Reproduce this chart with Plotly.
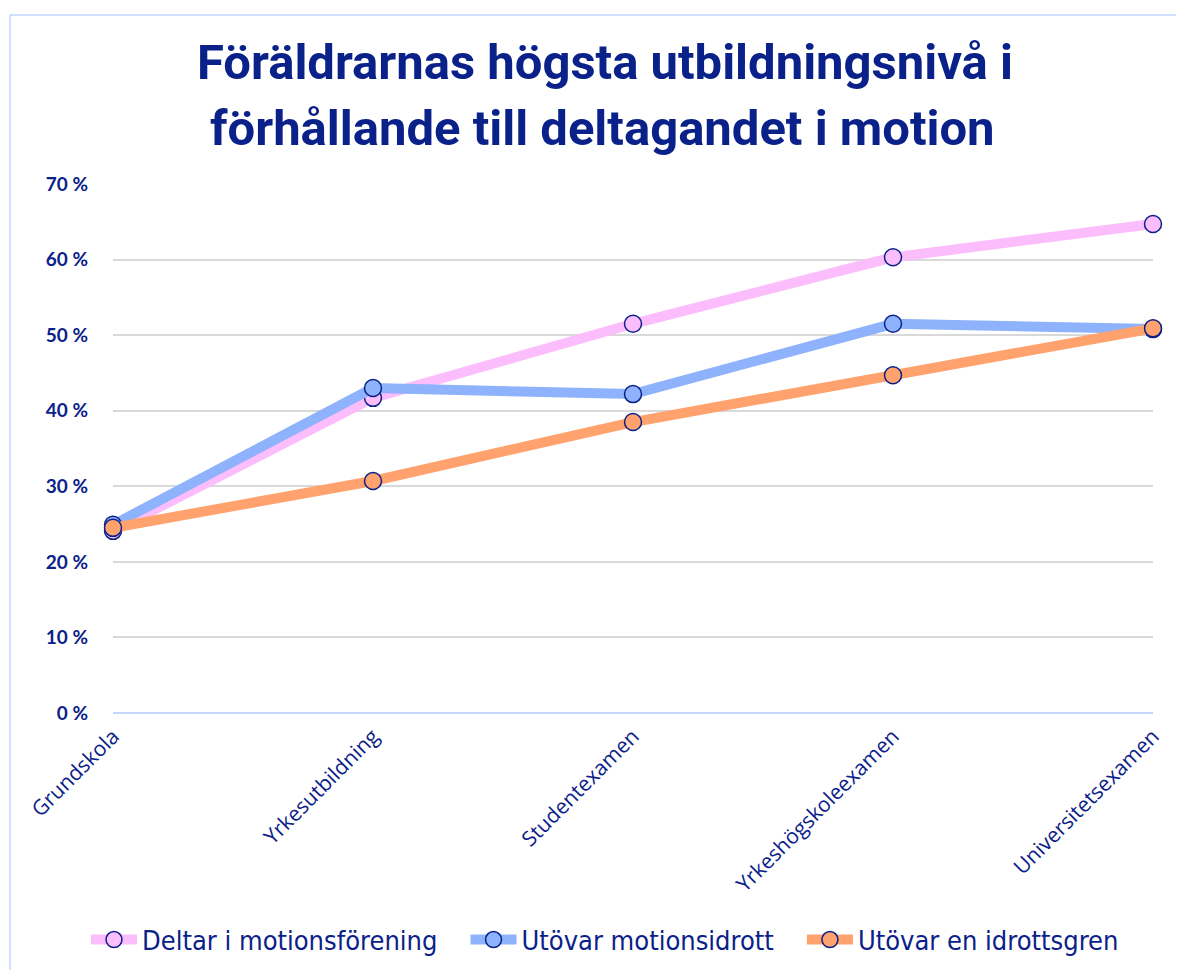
import plotly.graph_objects as go

categories = ["Grundskola", "Yrkesutbildning", "Studentexamen", "Yrkeshögskoleexamen", "Universitetsexamen"]
deltar = [24.1, 41.7, 51.5, 60.3, 64.7]
motionsidrott = [24.9, 43.0, 42.2, 51.5, 50.8]
idrottsgren = [24.5, 30.7, 38.5, 44.7, 50.9]
y_ticks = [0, 10, 20, 30, 40, 50, 60, 70]
y_labels = [f"{v} %" for v in y_ticks]

navy = "#0A2189"
series = [
    ("Deltar i motionsförening", deltar, "#FBBDFB"),
    ("Utövar motionsidrott", motionsidrott, "#8EB2FB"),
    ("Utövar en idrottsgren", idrottsgren, "#FFA26E"),
]

fig = go.Figure()
for i, (name, vals, col) in enumerate(series):
    pad = "\u00a0" * 3 if i < len(series) - 1 else ""
    fig.add_trace(go.Scatter(
        x=categories, y=vals, name=name + pad, mode="lines+markers",
        line=dict(color=col, width=10), cliponaxis=False,
        marker=dict(size=17, color=col, line=dict(color=navy, width=1.5)),
    ))

# page body has an 8px margin, so the figure is sized/offset accordingly
W, H = 1176, 962
L, R, T, B = 105, 31, 176, 257
ph = H - T - B

def py(page_y):
    return (H - B - (page_y - 8)) / ph

def px(page_x):
    return (page_x - 8 - L) / (W - L - R)

def cx(page_x):
    return (page_x - 8) / W

def cy(page_y):
    return 1 - (page_y - 8) / H

fig.update_layout(
    width=W, height=H,
    paper_bgcolor="white", plot_bgcolor="white",
    margin=dict(l=L, r=R, t=T, b=B, autoexpand=False),
    title=dict(
        text="<b>Föräldrarnas högsta utbildningsnivå i</b>",
        x=cx(605), xanchor="center", xref="container", y=cy(62), yanchor="middle",
        font=dict(family="Roboto", size=49, color=navy),
    ),
    showlegend=True,
    legend=dict(
        orientation="h", x=cx(605), xanchor="center", xref="container",
        y=cy(940), yanchor="middle", yref="container",
        font=dict(family="DejaVu Sans Condensed", size=27, color=navy),
        traceorder="normal", itemwidth=46,
    ),
    xaxis=dict(
        type="category", range=[0, 4], showgrid=False, zeroline=False,
        showline=False, tickangle=-45, automargin=False,
        tickfont=dict(family="Open Sans", size=21, color=navy),
        ticks="", ticklabelstandoff=6,
    ),
    yaxis=dict(
        range=[0, 70], tickvals=y_ticks, ticktext=y_labels, automargin=False,
        showgrid=True, gridcolor="#D9D9D9", gridwidth=1.5,
        zeroline=True, zerolinecolor="#C5D5FF", zerolinewidth=2,
        tickfont=dict(family="Lato", size=19, color=navy, weight="bold"),
        ticks="", ticklabelstandoff=24,
    ),
)

fig.add_annotation(
    text="<b>förhållande till deltagandet i motion</b>",
    xref="paper", yref="paper", x=px(602), xanchor="center",
    y=py(128), yanchor="middle", showarrow=False,
    font=dict(family="Roboto", size=49, color=navy),
)

# outer frame (left and top edges visible)
fig.add_shape(type="line", xref="paper", yref="paper",
              x0=px(10), x1=px(10), y0=py(975), y1=py(15),
              line=dict(color="#C5D5FF", width=1.5))
fig.add_shape(type="line", xref="paper", yref="paper",
              x0=px(10), x1=px(1190), y0=py(15), y1=py(15),
              line=dict(color="#C5D5FF", width=1.5))

fig.write_html("out.html")
